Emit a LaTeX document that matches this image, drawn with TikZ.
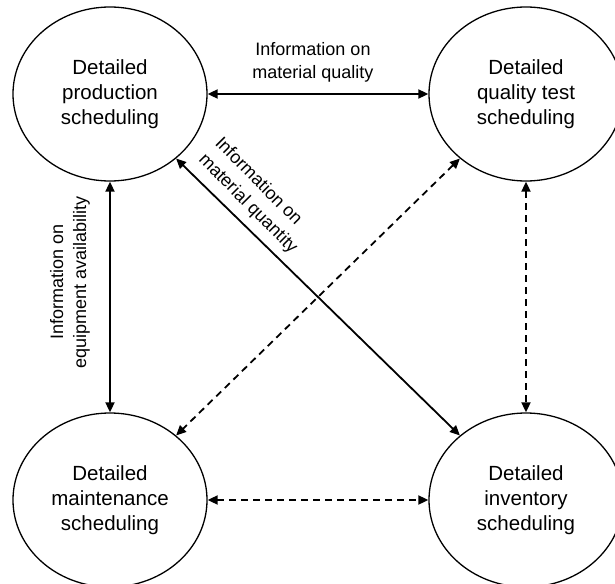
\documentclass[tikz,border=0pt]{standalone}
\usepackage{fontspec}
\setmainfont{Liberation Sans}
\usetikzlibrary{shapes.geometric,arrows.meta}
\begin{document}
\begin{tikzpicture}[x=1pt,y=-1pt,
  task/.style={ellipse,draw,line width=1.3pt,inner sep=0pt,minimum width=194pt,minimum height=174pt,
    align=center,font=\fontsize{20.5}{25}\selectfont},
  link/.style={line width=1.8pt,{Triangle[length=10pt,width=9pt]}-{Triangle[length=10pt,width=9pt]}},
  dlink/.style={link,dash pattern=on 7pt off 5pt},
  lbl/.style={font=\fontsize{18}{23}\selectfont,inner sep=0pt}
]
\useasboundingbox (0,0) rectangle (615,583);
\node[task] (tl) at (110,94) {Detailed\\production\\scheduling};
\node[task] (tr) at (526,94) {Detailed\\quality test\\scheduling};
\node[task] (bl) at (110,500) {Detailed\\maintenance\\scheduling};
\node[task] (br) at (526,500) {Detailed\\inventory\\scheduling};

\draw[link] (tl) -- (tr);
\draw[link] (tl) -- (bl);
\draw[link] (tl) -- (br);
\draw[dlink] (tr) -- (bl);
\draw[dlink] (tr) -- (br);
\draw[dlink] (bl) -- (br);

\node[lbl,align=center] (lq) at (313,62) {Information on\\material quality};
\node[lbl,align=center,rotate=90] (le) at (70,282) {Information on\\equipment availability};
\node[lbl,align=left,rotate=-45.2] (lm) at (256,196) {Information on\\material quantity};
\end{tikzpicture}
\end{document}
